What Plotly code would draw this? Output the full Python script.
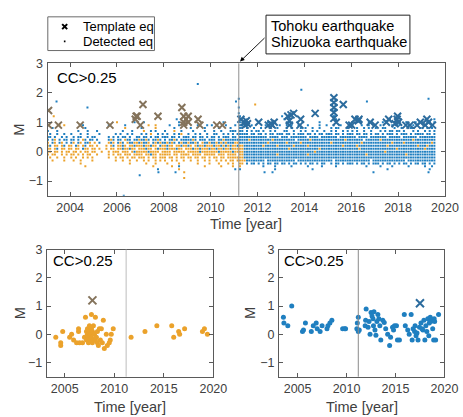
import plotly.graph_objects as go

W, H = 463, 417
FONT = "Liberation Sans, Arial, Helvetica, sans-serif"

# ---------------- data ----------------
T0 = 2003.0          # first time bin of the dense rows (0.1 yr bins)
BIN = 0.1
TOHOKU = 2011.2

# Detected events of the top panel, one string per magnitude row,
# one char per 0.1-yr bin, groups of 10 = one year (2003 ... 2019).
# b = blue family, o = orange family, . = none
ROW_M = [1.2, 1.1, 1.0, 0.9, 0.8, 0.7, 0.6, 0.5, 0.4, 0.3, 0.2, 0.1, 0.0,
         -0.1, -0.2, -0.3, -0.4, -0.5, -0.6]
ROWS = [
 "..........|..........|..........|..........|..........|..........|..........|..........|..b.......|..........|b.........|..........|..b.......|..........|..........|..........|..........",
 "..........|..........|..........|..........|..........|.....b....|..........|..........|..b.......|..........|.b........|..........|...b......|..........|......b...|..........|.....b....",
 "..........|..........|..........|.......b..|.b........|......b...|..........|.....b....|..b.b.....|....b.....|...b......|......b...|...b......|.......b..|...b......|...b...b..|..b..b....",
 ".....o.o..|.....b....|......b...|...b......|...o..o...|..b...b...|....b...b.|b.....b...|b.bb.b.b..|...b..b..b|..b.b..b..|.b....b..b|..b..b....|b...b..b..|..b....b.b|b...b.b...|.b..b.....",
 "..b.......|......b...|..........|...o......|b.....o...|....b.....|.b.....b..|...b....b.|..bb.b..b.|.b...b..b.|..b.b...b.|b..b..b...|.b.bb...b.|..b..b.b..|b..bb...b.|.b...bb..b|b.b.b.....",
 "b...b.....|...b...b..|.b........|..b...b...|.o..b.b...|b...o..b..|..b....b..|.b..b...bb|b.bb.b.b.b|b.b..b.b..|.bb..b..b.|b..b.b..b.|.b.b..b.b.|b.b..b..b.|..b.b.bb.b|b.b...b.b.|.b.b.b....",
 ".b..b..b..|b...b..b..|..b......b|.b..b.b...|b.b.o..b.b|.b..b.bo..|b..b.b..b.|.bb..b.b.b|.bbbbb.bb.|bb.b.bb.bb|b.bb.b.bbb|.bb.b.bb.b|bb.bb.b.bb|b.bb.bb.b.|bb.b.bbb.b|.bbb.b.bbb|b.bb.b....",
 "bb.b..b.b.|.b.bb..b.b|b.....b.b.|b.bb.b..bb|.bb.b.bb.b|bb.bb.b.bb|b.bb.bb.b.|bb.b.bbb.b|b.bbbbbbbb|bbbb.bbbb.|bbb.bbbbbb|b.bbbb.bbb|bbbb.bbbbb|bb.bbbb.bb|bbbbb.bbbb|b.bbbbbb.b|bbbbbb....",
 "b.bo.b.bb.|bb.b.ob.bb|.b....bob.|bb.obb.bbo|bbob.bbob.|b.bbob.bbb|bbob.bbb.b|bb.bbobbbb|bbbbbbobbb|bbbbbbobbb|bbbbbb.bbb|bbobbbbbbb|bbbbbbbobb|bbbbb.bbbb|bbobbbbbbb|bbbbbbobbb|bbbbbb....",
 "o.bo.bo.b.|bo.bo.bbo.|o.b...obo.|bob.obboob|obbo.bobob|bobob.bobb|obbob.obbo|bbobobobbb|oobbbbbbbb|bbbbobbbbb|bbobbbbbob|bbbbbbbbbb|bobbbbbbbb|bbbbobbbbb|bbbbbbbobb|bbobbbbbbb|bbbbob....",
 "ob.oo.ob.o|o.bo.ob.oo|.o...o.ob.|oobo.ooboo|obooboo.bo|oboo.ooboo|bo.obooboo|oboobobobo|oboobbbbbb|bbobbbbbob|bbbbbobbbb|bobbbbbbbb|bbbbbbobbb|bbobbbbbbb|bbbbbobbbb|bbbbbbbbob|bbobbb....",
 "oo.ob.oo.o|o.oo.boo.o|o.o..o.oo.|oobooboo.o|ooboo.oboo|oboooboo.o|ooboobooob|oobooboobo|oooobbbbbb|bbbbbbbbbb|bbbobbbbbb|bbbbbbobbb|bbbbbbbbbb|bbbobbbbbb|bbbbbbbbbo|bbbbbbbbbb|bobbbb....",
 "oo.oo.o.oo|.oo.o.oo.o|o..o..o.oo|o.ooo.oboo|oooboooo.o|ooo.ooooo.|oooooboooo|ooobooooob|oooobbbbbb|bbbbbbbbbb|bbbbbbbbbb|bbbbobbbbb|bbbbbbbbbb|bbbbbbbbbb|bbbbobbbbb|bbbbbbbbbb|bbbbbb....",
 "o.oo..o.o.|oo.o.o.oo.|.o....o.o.|oo.ooo.ooo|o.ooboo.oo|ooo.oo.ooo|o.oooo.ooo|oo.ooo.ooo|o.oobbbbbb|bbbbbbbbob|bbbbbbbbbb|bobbbbbbbb|bbbbbbbbbb|bbbbbbobbb|bbbbbbbbbb|bbbobbbbbb|bbbbbb....",
 ".o..o..o..|o.o..o.o.o|......o..o|.oo.o.oo.o|oo.o.oo.oo|o.oo.o.oo.|oo.oo.oo.o|.oo.oo.ooo|oooobbbbbb|bbbbbbbbbb|bbbbbbbbbb|bbbbbbbbbb|bbbbbbbbbb|bbbbbbbbbb|bbbbbbbbbb|bbbbbbbbbb|bbbbbb....",
 "..o....o..|.o..o....o|.........o|..o..o..o.|.o.o..o.o.|o..o.o..o.|.o..o..o.o|..o.o.o.oo|.oooobbbbb|bbb.bbbbbb|bbbbbb.bbb|bbbbbbbbbb|bb.bbbbbbb|bbbbbbbb.b|bbbbbbbbbb|bbb.bbbbbb|bbbbbb....",
 "..........|....o.....|..........|.....o....|..o...o...|.o....o...|....o....o|...o...o.o|..oo.b.bb.|b.b.bb.bb.|bb.b.bb.b.|b.bb.b.bb.|.b.bb.b.bb|b.b.bb.b.b|bb.b.bb.b.|b.bb.b.bb.|bb.b.b....",
 "..........|......o...|..........|..........|.....o....|...o..b...|.......o..|....o....o|..o.......|..b....b..|....b.....|.b.....b..|...b......|......b...|..b....b..|....b.....|.b..b.....",
 "..........|..........|..........|..........|.......b..|......o...|..........|..........|..b.......|.......b..|..........|...b......|..........|..........|.....b....|..........|...b......",
]

# isolated detected events of the top panel
OUT_BLUE_T = [2003.42, 2004.74, 2009.45, 2011.08, 2011.2, 2011.2, 2011.2, 2013.87, 2016.67,
              2019.3, 2006.97, 2007.77, 2008.5, 2011.05, 2012.3, 2012.64, 2016.95, 2019.3,
              2006.29, 2015.28, 2015.28]
OUT_BLUE_M = [1.7, 1.5, 2.3, 1.7, 1.8, 1.5, 1.3, 2.1, 1.7,
              1.8, -0.8, -0.7, -0.7, -0.6, -0.7, -0.7, -0.7, -0.7,
              -1.5, 1.4, 1.2]
OUT_ORANGE_T = [2011.9, 2008.87, 2008.87, 2003.3, 2006.0]
OUT_ORANGE_M = [1.6, -0.9, -0.7, 1.2, 1.0]

# template events, top panel
TPL_BROWN_T = [2003.08, 2003.08, 2003.5, 2004.43, 2005.7, 2006.78, 2006.82, 2006.86, 2007.0,
               2007.11, 2007.75, 2008.77, 2008.85, 2008.95, 2009.04, 2008.85, 2009.04, 2008.85,
               2009.46, 2009.54, 2010.26, 2010.5]
TPL_BROWN_M = [1.4, 0.9, 0.9, 0.9, 0.9, 1.1, 1.2, 1.2, 0.9,
               1.6, 1.2, 1.5, 1.2, 1.1, 1.2, 1.0, 1.0, 0.9,
               1.1, 0.9, 0.9, 0.9]
TPL_BLUE_T = [2011.29, 2011.43, 2011.52, 2011.57, 2011.47, 2012.05, 2012.46, 2012.57, 2012.71,
              2012.63, 2013.29, 2013.43, 2013.54, 2013.36, 2013.36, 2013.84, 2013.81, 2014.46,
              2015.26, 2015.26, 2015.26, 2015.26, 2015.26, 2015.36, 2015.66, 2015.91, 2016.02,
              2016.16, 2016.3, 2016.33, 2016.81, 2017.02, 2017.5, 2017.6, 2017.98, 2017.96,
              2018.02, 2017.87, 2018.33, 2018.51, 2018.81, 2018.95, 2019.23, 2019.3, 2019.16,
              2019.47]
TPL_BLUE_M = [1.1, 1.0, 1.05, 0.95, 0.9, 1.0, 0.9, 0.95, 1.0,
              0.9, 1.2, 1.25, 1.3, 1.05, 0.9, 1.1, 0.9, 1.3,
              1.83, 1.67, 1.5, 1.33, 1.13, 1.0, 1.6, 0.9, 0.9,
              1.1, 1.05, 1.1, 1.0, 0.9, 1.0, 1.1, 1.2, 1.1,
              1.0, 0.95, 0.9, 0.9, 0.9, 1.0, 1.1, 1.0, 0.9,
              0.9]

# bottom-left panel (orange family)
BL_T = [2004.1, 2004.6, 2004.6, 2004.8, 2005.5, 2005.7, 2005.9, 2006.2, 2006.4, 2006.4,
        2006.5, 2006.8, 2007.0, 2007.1, 2007.2, 2007.2, 2007.3, 2007.3, 2007.4, 2007.4,
        2007.5, 2007.5, 2007.6, 2007.6, 2007.7, 2007.7, 2007.7, 2007.8, 2007.8, 2007.9,
        2007.9, 2008.0, 2008.1, 2008.1, 2008.2, 2008.3, 2008.3, 2008.4, 2008.5, 2008.6,
        2008.7, 2008.8, 2008.9, 2009.0, 2009.2, 2009.3, 2009.5, 2009.6, 2009.7, 2009.9,
        2011.7, 2013.1, 2014.3, 2015.8, 2016.0, 2016.5, 2016.6, 2017.1, 2018.9, 2019.1, 2019.4]
BL_M = [-0.1, -0.3, -0.4, 0.1, -0.1, 0.0, -0.2, -0.3, 0.2, 0.1,
        -0.3, -0.3, -0.1, 0.6, 0.1, -0.2, 0.2, 0.0, -0.1, -0.3,
        0.1, 0.3, -0.2, 0.0, 0.7, 0.2, -0.1, 0.1, -0.3, 0.3,
        -0.2, 0.0, 0.6, -0.2, -0.1, -0.3, 0.1, -0.4, 0.2, -0.2,
        0.2, -0.3, 0.5, -0.5, 0.0, -0.4, -0.3, -0.2, 0.0, 0.2,
        -0.1, 0.1, 0.3, 0.3, -0.1, 0.1, 0.0, 0.2, 0.1, 0.2, 0.0]
BL_TPL_T = [2007.8]
BL_TPL_M = [1.2]

# bottom-right panel (blue family)
BR_T = [2003.55, 2003.6, 2004.0, 2004.4, 2005.5, 2005.6, 2005.8, 2006.4, 2006.6, 2006.9,
        2007.0, 2007.3, 2007.5, 2008.0, 2008.1, 2008.3, 2008.5, 2009.6, 2009.8, 2009.9,
        2011.05, 2011.1, 2011.2, 2011.2, 2011.3, 2011.9, 2012.0, 2011.95, 2012.2, 2012.4,
        2012.5, 2012.6, 2012.7, 2012.75, 2012.9, 2013.0, 2013.2, 2013.3, 2013.4, 2013.5,
        2013.7, 2013.85, 2014.0, 2014.2, 2014.4, 2014.5, 2014.7, 2014.8, 2015.1, 2015.2,
        2015.4, 2015.9, 2016.0, 2016.25, 2016.4, 2016.6, 2016.8, 2016.95, 2017.1, 2017.3,
        2017.45, 2017.6, 2017.8, 2017.9, 2018.0, 2018.1, 2018.3, 2018.45, 2018.55, 2018.7,
        2018.8, 2018.9, 2018.95, 2019.1, 2019.4,
        2012.3, 2012.8, 2013.1, 2014.9, 2017.0, 2017.7, 2018.2, 2018.6, 2019.0, 2016.7,
        2017.2, 2018.4]
BR_M = [0.6, 0.4, 0.3, 1.0, 0.1, 0.15, 0.4, 0.1, 0.3, 0.4,
        0.2, 0.1, 0.3, 0.2, 0.3, 0.4, 0.5, 0.2, 0.2, 0.2,
        0.2, 0.4, 0.6, 0.1, 0.15, 0.3, 0.9, 0.5, 0.25, 0.0,
        0.77, 0.65, 0.55, 0.3, 0.15, -0.03, 0.7, 0.55, 0.3, -0.2,
        0.5, 0.42, 0.2, 0.0, -0.4, -0.1, 0.25, 0.15, 0.3, -0.2,
        -0.2, 0.7, 0.3, 0.15, 0.0, 0.7, 0.2, 0.1, -0.05, -0.2,
        0.25, 0.4, 0.15, 0.5, -0.2, 0.3, 0.55, 0.4, 0.6, 0.5,
        0.2, -0.2, 0.55, -0.2, 0.7,
        0.45, 0.8, 0.45, 0.3, 0.3, 0.2, 0.1, 0.45, 0.45, -0.2,
        0.05, -0.05]
BR_TPL_T = [2017.5]
BR_TPL_M = [1.1]

TOP_XTICKS = [2004, 2006, 2008, 2010, 2012, 2014, 2016, 2018, 2020]
BOT_XTICKS = [2005, 2010, 2015, 2020]
YTICKS = [-1, 0, 1, 2, 3]

# ---------------- styles ----------------
BLUE = "#1f7fc0"
ORANGE = "#eba22b"
TPL_BLUE = "#2c6c9e"
TPL_BROWN = "#84735b"
AX = "#5a5a5a"
TXT = "#404040"

# expand the row strings
blue_t, blue_m, orange_t, orange_m = [], [], [], []
for m, row in zip(ROW_M, ROWS):
    s = row.replace("|", "")
    for i, ch in enumerate(s):
        t = T0 + BIN * i + BIN / 2
        if ch == "b":
            blue_t.append(t); blue_m.append(m)
        elif ch == "o":
            orange_t.append(t); orange_m.append(m)
blue_t += OUT_BLUE_T; blue_m += OUT_BLUE_M
orange_t += OUT_ORANGE_T; orange_m += OUT_ORANGE_M

def px(p):
    return p / W

def py(p):
    return 1 - p / H

fig = go.Figure()

dot = dict(symbol="square", size=2.0, line=dict(width=0))
fig.add_trace(go.Scatter(x=blue_t, y=blue_m, mode="markers",
                         marker=dict(color=BLUE, **dot), xaxis="x", yaxis="y"))
fig.add_trace(go.Scatter(x=orange_t, y=orange_m, mode="markers",
                         marker=dict(color=ORANGE, **dot), xaxis="x", yaxis="y"))
xm = dict(symbol="x-thin-open", size=7)
fig.add_trace(go.Scatter(x=TPL_BROWN_T, y=TPL_BROWN_M, mode="markers",
                         marker=dict(color=TPL_BROWN, line=dict(width=2, color=TPL_BROWN), **xm),
                         xaxis="x", yaxis="y"))
fig.add_trace(go.Scatter(x=TPL_BLUE_T, y=TPL_BLUE_M, mode="markers",
                         marker=dict(color=TPL_BLUE, line=dict(width=2, color=TPL_BLUE), **xm),
                         xaxis="x", yaxis="y"))

# bottom left
fig.add_trace(go.Scatter(x=BL_T, y=BL_M, mode="markers",
                         marker=dict(color=ORANGE, size=5, line=dict(width=0)),
                         xaxis="x2", yaxis="y2"))
fig.add_trace(go.Scatter(x=BL_TPL_T, y=BL_TPL_M, mode="markers",
                         marker=dict(color=TPL_BROWN, line=dict(width=2, color=TPL_BROWN),
                                     symbol="x-thin-open", size=8),
                         xaxis="x2", yaxis="y2"))
# bottom right
fig.add_trace(go.Scatter(x=BR_T, y=BR_M, mode="markers",
                         marker=dict(color=BLUE, size=5, line=dict(width=0)),
                         xaxis="x3", yaxis="y3"))
fig.add_trace(go.Scatter(x=BR_TPL_T, y=BR_TPL_M, mode="markers",
                         marker=dict(color=TPL_BLUE, line=dict(width=2, color=TPL_BLUE),
                                     symbol="x-thin-open", size=8),
                         xaxis="x3", yaxis="y3"))

# legend glyphs on a pixel-unit helper axis
fig.add_trace(go.Scatter(x=[17.4], y=[10], mode="markers",
                         marker=dict(color="black", symbol="x-thin-open", size=5,
                                     line=dict(width=2, color="black")),
                         xaxis="x4", yaxis="y4"))
fig.add_trace(go.Scatter(x=[17.4], y=[25], mode="markers",
                         marker=dict(color="black", symbol="square", size=1.6, line=dict(width=0)),
                         xaxis="x4", yaxis="y4"))

tickfont = dict(family=FONT, size=12.5, color=TXT)
common = dict(showgrid=False, zeroline=False, showline=True, linecolor=AX, linewidth=1,
              mirror="ticks", ticks="inside", ticklen=4, tickwidth=1, tickcolor=AX,
              tickfont=tickfont)
xcommon = dict(ticklabelstandoff=0, ticklabeloverflow="allow", **common)
ycommon = dict(ticklabelstandoff=1, **common)

fig.update_layout(
    width=W, height=H, margin=dict(l=0, r=0, t=0, b=0),
    paper_bgcolor="white", plot_bgcolor="white", showlegend=False,
    xaxis=dict(domain=[px(49), px(458.8)], range=[2003.035, 2020.0],
               tickvals=TOP_XTICKS, ticktext=[str(v) for v in TOP_XTICKS],
               anchor="y", **xcommon),
    yaxis=dict(domain=[py(192), py(57.3)], range=[-1.5, 3], tickvals=YTICKS,
               anchor="x", **ycommon),
    xaxis2=dict(domain=[px(48.3), px(220)], range=[2003.2, 2020.0],
                tickvals=BOT_XTICKS, ticktext=[str(v) for v in BOT_XTICKS],
                anchor="y2", **xcommon),
    yaxis2=dict(domain=[py(376), py(246.7)], range=[-1.5, 3], tickvals=YTICKS,
                anchor="x2", **ycommon),
    xaxis3=dict(domain=[px(287.7), px(458.3)], range=[2003.1, 2020.0],
                tickvals=BOT_XTICKS, ticktext=[str(v) for v in BOT_XTICKS],
                anchor="y3", **xcommon),
    yaxis3=dict(domain=[py(376), py(246.7)], range=[-1.5, 3], tickvals=YTICKS,
                anchor="x3", **ycommon),
    xaxis4=dict(domain=[px(49.3), px(159.3)], range=[0, 110], visible=False, anchor="y4"),
    yaxis4=dict(domain=[py(44.3), py(10)], range=[34.3, 0], visible=False, anchor="x4"),
)

shapes = [
    dict(type="line", xref="x", yref="y domain", x0=TOHOKU, x1=TOHOKU, y0=0, y1=1,
         line=dict(color="#8f8f8f", width=1)),
    dict(type="line", xref="x2", yref="y2 domain", x0=TOHOKU, x1=TOHOKU, y0=0, y1=1,
         line=dict(color="#bdbdbd", width=1)),
    dict(type="line", xref="x3", yref="y3 domain", x0=TOHOKU, x1=TOHOKU, y0=0, y1=1,
         line=dict(color="#8a8a8a", width=1)),
    dict(type="rect", xref="paper", yref="paper", x0=px(49.3), x1=px(159.3),
         y0=py(44.3), y1=py(10), line=dict(color="#6a6a6a", width=1), fillcolor="rgba(0,0,0,0)"),
    dict(type="rect", xref="paper", yref="paper", x0=px(274.3), x1=px(422.7),
         y0=py(47.7), y1=py(8.3), line=dict(color="#222222", width=1), fillcolor="white"),
]
fig.update_layout(shapes=shapes)

def text(x, y, s, size, color="black", xanchor="left", angle=0):
    return dict(x=px(x), y=py(y), xref="paper", yref="paper", text=s, showarrow=False,
                xanchor=xanchor, yanchor="middle", textangle=angle,
                font=dict(family=FONT, size=size, color=color))

ann = [
    text(84, 20, "Template eq", 13),
    text(84, 35, "Detected eq", 13),
    text(277, 19, "Tohoku earthquake", 14.5),
    text(277, 36, "Shizuoka earthquake", 14.5),
    text(57, 72, "CC&gt;0.25", 15),
    text(53, 258, "CC&gt;0.25", 15),
    text(291, 258, "CC&gt;0.25", 15),
    text(20, 124.5, "M", 14.5, TXT, "center", -90),
    text(20, 311, "M", 14.5, TXT, "center", -90),
    text(258, 311, "M", 14.5, TXT, "center", -90),
    text(253.5, 221, "Time [year]", 14.5, TXT, "center"),
    text(134, 407, "Time [year]", 14.5, TXT, "center"),
    text(373, 407, "Time [year]", 14.5, TXT, "center"),
    dict(x=px(247.5), y=py(55.5), xref="paper", yref="paper", text="", showarrow=True,
         ax=26, ay=-25, arrowhead=2, arrowsize=1, arrowwidth=0.9, arrowcolor="black"),
]
fig.update_layout(annotations=ann)

POST = ("var d=document.documentElement,b=document.body;"
        "d.style.margin='0';d.style.padding='0';d.style.overflow='hidden';"
        "b.style.margin='0';b.style.padding='0';b.style.overflow='hidden';")
fig.write_html("out.html", config={"displayModeBar": False, "responsive": False},
               post_script=POST)
